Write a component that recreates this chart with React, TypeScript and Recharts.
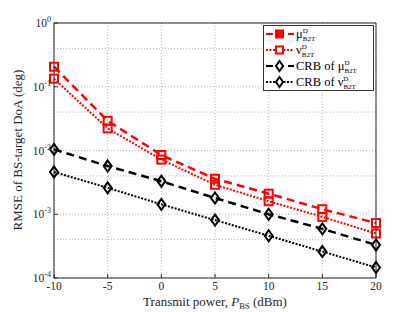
import {
  LineChart,
  Line,
  XAxis,
  YAxis,
  CartesianGrid,
  Legend,
} from "recharts";

const powers = [-10, -5, 0, 5, 10, 15, 20];
const muB2T = [0.206, 0.0292, 0.0085, 0.0036, 0.0021, 0.0012, 0.00073];
const nuB2T = [0.134, 0.0222, 0.0072, 0.0029, 0.0016, 0.00091, 0.0005];
const crbMu = [0.0104, 0.0057, 0.0033, 0.0018, 0.001, 0.00059, 0.00033];
const crbNu = [0.0046, 0.0026, 0.00143, 0.00081, 0.00046, 0.00026, 0.000146];

const yTicks = [1e-4, 1e-3, 1e-2, 1e-1, 1];
const yExps = ["-4", "-3", "-2", "-1", "0"];

// minor log grid lines (1..10 in each decade)
const minorVals: number[] = [];
[1e-4, 1e-3, 1e-2, 1e-1].forEach((d) => {
  for (let k = 1; k <= 10; k++) minorVals.push(d * k);
});

const data = powers.map((p, i) => ({
  p,
  mu: muB2T[i],
  nu: nuB2T[i],
  cmu: crbMu[i],
  cnu: crbNu[i],
}));

const FONT = "'Liberation Serif', 'DejaVu Serif', serif";
const RED = "#ff0000";

const Square = ({ cx, cy, color }: any) => (
  <rect x={cx - 4} y={cy - 4} width={8} height={8} fill="none" stroke={color} strokeWidth={2} />
);
const Diamond = ({ cx, cy, color }: any) => (
  <path d={`M${cx},${cy - 5.5} L${cx + 4},${cy} L${cx},${cy + 5.5} L${cx - 4},${cy} Z`} fill="none" stroke={color} strokeWidth={2} />
);

const YTick = ({ x, y, payload }: any) => {
  const idx = yTicks.findIndex((t) => Math.abs(t - payload.value) < payload.value * 0.01);
  return (
    <text x={x - 5} y={y + 4} textAnchor="end" fontFamily={FONT} fontSize={11.5} fill="#262626">
      10
      <tspan dy={-5} fontSize={8}>{yExps[idx]}</tspan>
    </text>
  );
};

const legendRows = [
  { sym: "μ", pre: "", dash: "7 4", color: RED, marker: "sq", filled: true },
  { sym: "ν", pre: "", dash: "2 1.5", color: RED, marker: "sq", filled: false },
  { sym: "μ", pre: "CRB of ", dash: "7 4", color: "#000", marker: "di", filled: false },
  { sym: "ν", pre: "CRB of ", dash: "2 1.5", color: "#000", marker: "di", filled: false },
];

const renderLegend = () => (
  <svg width={111} height={66} style={{ display: "block" }}>
    <rect x={0.5} y={0.5} width={110} height={65} fill="#fff" stroke="#333" strokeWidth={1} />
    {legendRows.map((r, i) => {
      const cy = 9 + i * 16;
      return (
        <g key={i}>
          <line x1={3} y1={cy} x2={31} y2={cy} stroke={r.color} strokeWidth={2.2} strokeDasharray={r.dash} />
          {r.marker === "sq" ? (
            <rect x={13} y={cy - 3.5} width={7} height={7} fill={r.filled ? r.color : "#fff"} stroke={r.color} strokeWidth={2} />
          ) : (
            <path d={`M16.5,${cy - 5} L20,${cy} L16.5,${cy + 5} L13,${cy} Z`} fill="#fff" stroke="#000" strokeWidth={2} />
          )}
          <text x={33} y={cy + 4} fontFamily={FONT} fontSize={12.5} fill="#000">
            {r.pre}
            {r.sym}
            <tspan dy={-5} fontSize={7}>D</tspan>
            <tspan dx={-5} dy={8} fontSize={7}>B2T</tspan>
          </text>
        </g>
      );
    })}
  </svg>
);

export default function App() {
  return (
    <div style={{ position: "absolute", left: 0, top: 0, width: 415, height: 312, background: "#fff" }}>
      <LineChart
        width={415}
        height={312}
        data={data}
        margin={{ top: 22, right: 38, left: 8, bottom: 4 }}
      >
        <CartesianGrid
          stroke="#b5b5b5"
          strokeDasharray="1 2"
          horizontalValues={minorVals}
          verticalValues={powers}
        />
        <XAxis
          dataKey="p"
          type="number"
          domain={[-10, 20]}
          ticks={powers}
          height={30}
          stroke="#262626"
          tickSize={-4}
          tickMargin={8}
          tick={{ fontFamily: FONT, fontSize: 11.5, fill: "#262626" }}
        />
        <XAxis xAxisId="top" orientation="top" dataKey="p" type="number" domain={[-10, 20]} ticks={powers} height={1} stroke="#262626" tickSize={-4} tick={false} />
        <YAxis
          scale="log"
          domain={[1e-4, 1]}
          ticks={yTicks}
          allowDataOverflow
          width={46}
          stroke="#262626"
          tickSize={-4}
          tick={<YTick />}
        />
        <YAxis yAxisId="right" orientation="right" scale="log" domain={[1e-4, 1]} ticks={yTicks} width={1} stroke="#262626" tickSize={-4} tick={false} />
        <Legend
          layout="horizontal"
          verticalAlign="middle"
          align="center"
          content={renderLegend}
          wrapperStyle={{ position: "absolute", left: 263, top: 25, width: 111, height: 66 }}
        />
        <Line dataKey="mu" stroke={RED} strokeWidth={2.5} strokeDasharray="8 5" dot={<Square color={RED} />} isAnimationActive={false} />
        <Line dataKey="nu" stroke={RED} strokeWidth={2} strokeDasharray="2 1.5" dot={<Square color={RED} />} isAnimationActive={false} />
        <Line dataKey="cmu" stroke="#000" strokeWidth={2.5} strokeDasharray="8 5" dot={<Diamond color="#000" />} isAnimationActive={false} />
        <Line dataKey="cnu" stroke="#000" strokeWidth={2} strokeDasharray="2 1.5" dot={<Diamond color="#000" />} isAnimationActive={false} />
        <text x={215} y={306} textAnchor="middle" fontFamily={FONT} fontSize={13} fill="#262626">
          Transmit power, <tspan fontStyle="italic">P</tspan>
          <tspan dy={3} fontSize={8.5}>BS</tspan>
          <tspan dy={-3}> (dBm)</tspan>
        </text>
        <text
          x={22}
          y={150}
          textAnchor="middle"
          transform="rotate(-90 22 150)"
          fontFamily={FONT}
          fontSize={13}
          fill="#262626"
        >
          RMSE of BS-target DoA (deg)
        </text>
      </LineChart>
    </div>
  );
}
